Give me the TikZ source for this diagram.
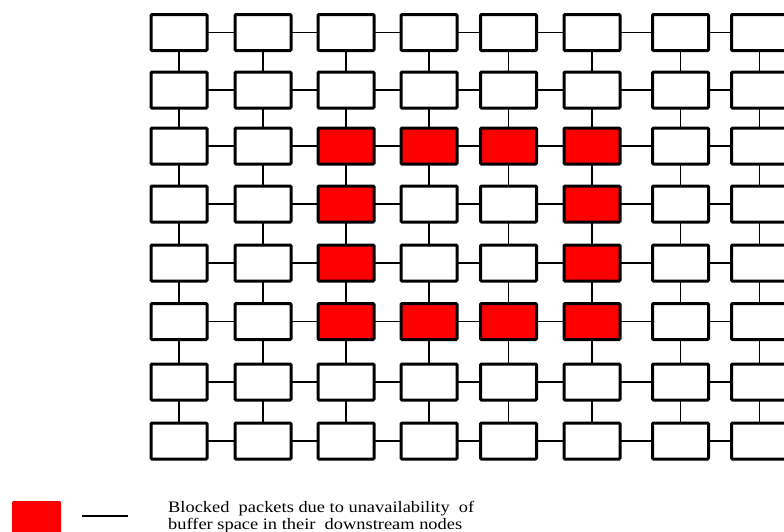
\documentclass[tikz,border=0pt]{standalone}
\usepackage{fontspec}
\setmainfont{Liberation Serif}
\newfontfamily\legfont[FakeStretch=1.15]{Liberation Serif}
\definecolor{blockred}{RGB}{255,0,0}
\begin{document}
\begin{tikzpicture}[x=1pt,y=-1pt,
  router/.style={draw=black, line width=3pt, rounded corners=1pt, fill=white,
    minimum width=56pt, minimum height=36pt, inner sep=0pt, outer sep=0pt},
  blocked/.style={router, fill=blockred},
  link/.style={draw=black, line width=1.7pt},
  legtext/.style={anchor=base west, inner sep=0pt, font=\legfont\fontsize{16}{17}\selectfont}]
\useasboundingbox (0,0) rectangle (784,531);
\clip (0,0) rectangle (784,531);
\def\colx{{179,263,346,429,508.5,592,680.5,759.5}}
\def\rowy{{32.5,90,146,204,263,321.5,382,441}}
\foreach \r in {0,...,7}{
  \foreach \c in {0,...,7}{
    \pgfmathsetmacro{\xx}{\colx[\c]}
    \pgfmathsetmacro{\yy}{\rowy[\r]}
    \pgfmathtruncatemacro{\isred}{
      ((\r==2 || \r==5) && \c>=2 && \c<=5) || ((\c==2 || \c==5) && \r>=2 && \r<=5) ? 1 : 0}
    \ifnum\isred=1
      \node[blocked] (n-\r-\c) at (\xx,\yy) {};
    \else
      \node[router] (n-\r-\c) at (\xx,\yy) {};
    \fi
  }
}
\foreach \r in {0,...,7}{
  \foreach \c [evaluate=\c as \cn using int(\c+1)] in {0,...,6}{
    \draw[link] (n-\r-\c.east) -- (n-\r-\cn.west);
  }
}
\foreach \c in {0,...,7}{
  \foreach \r [evaluate=\r as \rn using int(\r+1)] in {0,...,6}{
    \draw[link] (n-\r-\c.south) -- (n-\rn-\c.north);
  }
}
% legend
\node[draw=none, fill=blockred, rounded corners=1pt, minimum width=49pt, minimum height=34pt,
  inner sep=0pt, anchor=north west] (legbox) at (12,501) {};
\coordinate (legA) at (82,516);
\coordinate (legB) at (128,516);
\draw[link] (legA) -- (legB);
\node[legtext] (leg1) at (168,512.5) {Blocked\ \ packets due to unavailability\ \ of};
\node[legtext] (leg2) at (168,529.5) {buffer space in their\ \ downstream nodes};
\end{tikzpicture}
\end{document}
